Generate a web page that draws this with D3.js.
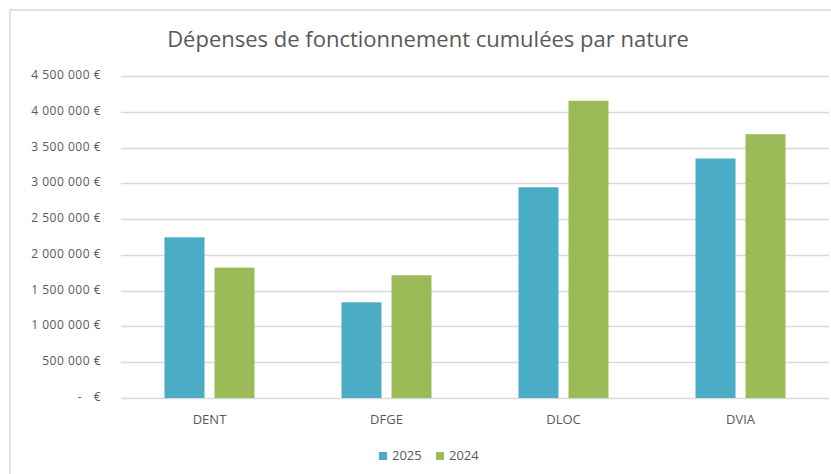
<!DOCTYPE html>
<html>
<head>
<meta charset="utf-8">
<script src="https://cdn.jsdelivr.net/npm/d3@7"></script>
<style>
  html, body { margin: 0; padding: 0; background: #fff; }
  svg { display: block; font-family: "Open Sans", sans-serif; }
</style>
</head>
<body>
<svg id="chart" width="831" height="474"></svg>
<script>
// data
const categories = ['DENT', 'DFGE', 'DLOC', 'DVIA']
const series = ['2025', '2024']
const values2025 = [2246000, 1337000, 2945000, 3347000]
const values2024 = [1822000, 1715000, 4154000, 3687000]
const yTicks = [0, 500000, 1000000, 1500000, 2000000, 2500000, 3000000, 3500000, 4000000, 4500000]
const colors = ['#4bacc6', '#9bbb59']

const svg = d3.select('#chart')
const grey = '#595959'

// chart area border (only left and top visible)
svg.append('path')
  .attr('d', 'M10,474 L10,10 L831,10')
  .attr('fill', 'none')
  .attr('stroke', '#e3e3e3')
  .attr('stroke-width', 2)

svg.append('text')
  .attr('x', 428)
  .attr('y', 47)
  .attr('text-anchor', 'middle')
  .attr('font-size', '22px')
  .attr('fill', grey)
  .text('Dépenses de fonctionnement cumulées par nature')

const x0 = d3.scaleBand().domain(categories).range([121, 829])
const x1 = d3.scaleBand().domain(series).range([0, 90]).paddingInner(0.2)
const y = d3.scaleLinear().domain([0, 4500000]).range([398, 76])

const fmt = v => v === 0 ? '-' : d3.format(',')(v).replace(/,/g, ' ') + ' €'

// gridlines
svg.append('g')
  .selectAll('line')
  .data(yTicks)
  .enter().append('line')
  .attr('x1', 121)
  .attr('x2', 829)
  .attr('y1', d => Math.round(y(d)) + 0.5)
  .attr('y2', d => Math.round(y(d)) + 0.5)
  .attr('stroke', '#d9d9d9')
  .attr('stroke-width', 1.3)

// y labels
const yl = svg.append('g')
  .attr('font-size', '12px')
  .attr('letter-spacing', '0.5px')
  .attr('fill', grey)
yl.selectAll('text')
  .data(yTicks)
  .enter().append('text')
  .attr('x', d => d === 0 ? 82 : 101)
  .attr('y', d => y(d) + 3)
  .attr('text-anchor', 'end')
  .text(fmt)
yl.append('text')
  .attr('x', 101)
  .attr('y', y(0) + 3)
  .attr('text-anchor', 'end')
  .text('€')

// bars
const rows = categories.map((c, i) => ({ cat: c, vals: [values2025[i], values2024[i]] }))
const groups = svg.append('g')
  .selectAll('g')
  .data(rows)
  .enter().append('g')
  .attr('transform', d => 'translate(' + (x0(d.cat) + (x0.bandwidth() - 90) / 2) + ',0)')

groups.selectAll('rect')
  .data(d => d.vals.map((v, i) => ({ s: series[i], v: v, i: i })))
  .enter().append('rect')
  .attr('x', d => x1(d.s))
  .attr('width', x1.bandwidth())
  .attr('y', d => y(d.v))
  .attr('height', d => y(0) - y(d.v))
  .attr('fill', d => colors[d.i])

// category labels
svg.append('g')
  .selectAll('text')
  .data(categories)
  .enter().append('text')
  .attr('x', d => x0(d) + x0.bandwidth() / 2)
  .attr('y', 424)
  .attr('text-anchor', 'middle')
  .attr('font-size', '13px')
  .attr('fill', grey)
  .text(d => d)

// legend
const legend = svg.append('g').attr('transform', 'translate(379,0)')
series.forEach((s, i) => {
  legend.append('rect')
    .attr('x', i * 57)
    .attr('y', 452)
    .attr('width', 8)
    .attr('height', 8)
    .attr('fill', colors[i])
  legend.append('text')
    .attr('x', i * 57 + 13)
    .attr('y', 460)
    .attr('font-size', '13px')
    .attr('fill', grey)
    .text(s)
})
</script>
</body>
</html>
